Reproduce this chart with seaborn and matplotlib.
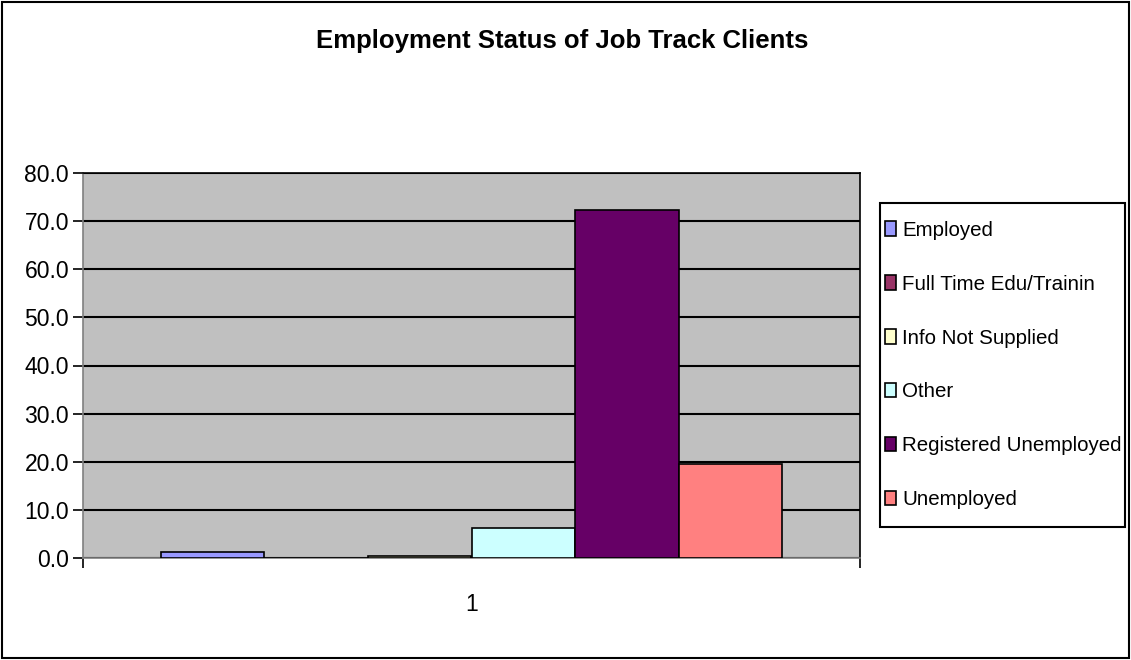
import matplotlib
matplotlib.use("Agg")
import matplotlib.pyplot as plt
import matplotlib.patches as mpatches
import seaborn as sns
import pandas as pd

categories = ["Employed", "Full Time Edu/Trainin", "Info Not Supplied", "Other",
              "Registered Unemployed", "Unemployed"]
values = [1.2, 0.0, 0.5, 6.2, 72.3, 19.5]
group_labels = ["1"]
colors = ["#9999FF", "#993366", "#FFFFCC", "#CCFFFF", "#660066", "#FF8080"]
y_ticks = [0, 10, 20, 30, 40, 50, 60, 70, 80]

sns.set_theme(style="white")
plt.rcParams["font.family"] = ["Liberation Sans", "DejaVu Sans"]
for k in ["text.color", "axes.labelcolor", "xtick.color", "ytick.color"]:
    plt.rcParams[k] = "black"

df = pd.DataFrame({"group": group_labels * len(categories),
                   "status": categories, "value": values})

fig = plt.figure(figsize=(11.31, 6.6), dpi=100)
ax = fig.add_axes([83/1131, 1-558/660, (860-83)/1131, (558-173)/660])
ax.set_facecolor("#C0C0C0")

sns.barplot(data=df, x="group", y="value", hue="status", hue_order=categories,
            palette=colors, edgecolor="black", linewidth=1.2, width=0.8,
            saturation=1, ax=ax, legend=False, zorder=3)

ax.set_ylim(0, 80)
ax.set_yticks(y_ticks)
ax.set_yticklabels([f"{v:.1f}" for v in y_ticks], fontsize=16.5)
ax.set_xlim(-0.5, 0.5)
ax.set_xticks([-0.5, 0.5], minor=True)
ax.tick_params(axis="x", which="minor", length=7, width=1.2, color="black", direction="out", bottom=True)
ax.tick_params(axis="x", which="major", length=0, labelsize=16.5, pad=25)
ax.tick_params(axis="y", length=7, width=1.2, color="black", direction="out", left=True, pad=3)
ax.set_xlabel("")
ax.set_ylabel("")
ax.yaxis.grid(True, color="black", linewidth=1.5, zorder=1)
ax.set_axisbelow(True)
for s in ax.spines.values():
    s.set_visible(True)
    s.set_color("black")
    s.set_linewidth(1.2)
ax.spines["left"].set_color("#808080")
ax.spines["bottom"].set_color("#808080")

handles = [mpatches.Rectangle((0, 0), 1, 1, facecolor=c, edgecolor="black", linewidth=1.2)
           for c in colors]
leg = fig.legend(handles, categories, loc="center left",
                 bbox_to_anchor=(885/1131, 1-365/660), bbox_transform=fig.transFigure,
                 fontsize=14.8, frameon=False,
                 handlelength=0.55, handleheight=0.7, handletextpad=0.3,
                 labelspacing=1.7, borderpad=0, borderaxespad=0)

fig.patches.append(mpatches.Rectangle((880/1131, 1-527/660), 245/1131, 324/660,
                                      transform=fig.transFigure, fill=False,
                                      edgecolor="black", linewidth=1.5))

fig.text(562/1131, 1-41/660, "Employment Status of Job Track Clients",
         ha="center", va="center", fontsize=18.5, fontweight="bold")

fig.patches.append(mpatches.Rectangle((2/1131, 2/660), 1127/1131, 656/660,
                                      transform=fig.transFigure, fill=False,
                                      edgecolor="black", linewidth=1.5))

fig.savefig("out.png", dpi=100)
